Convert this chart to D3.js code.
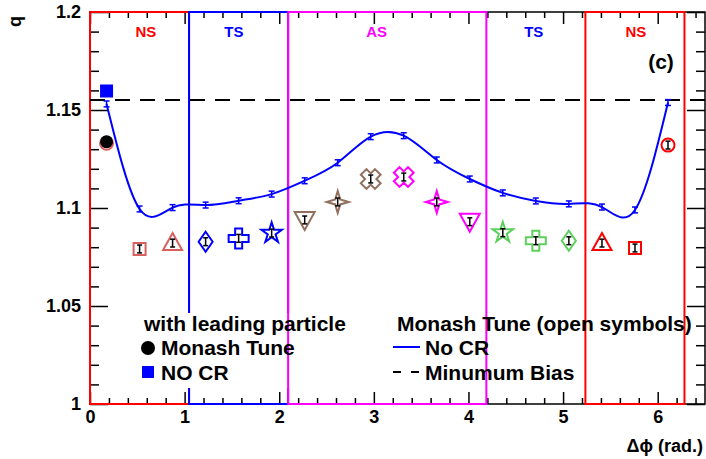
<!DOCTYPE html>
<html>
<head>
<meta charset="utf-8">
<script src="https://cdn.jsdelivr.net/npm/d3@7"></script>
<style>
  body { margin: 0; background: #fff; }
  svg text { font-family: "Liberation Sans", Arial, sans-serif; font-weight: bold; }
</style>
</head>
<body>
<div id="chart"></div>
<script>
// bin centres in delta phi (rad.)
var binCenters = [0.175, 0.524, 0.873, 1.222, 1.571, 1.920, 2.269, 2.618, 2.967,
                  3.316, 3.665, 4.014, 4.363, 4.712, 5.061, 5.411, 5.760, 6.109];

// No CR curve (blue line)
var noCR = [1.1531, 1.0995, 1.1002, 1.1015, 1.1037, 1.1071, 1.1139, 1.1231, 1.1364,
            1.1369, 1.1245, 1.1148, 1.1077, 1.1036, 1.1021, 1.1005, 1.0990, 1.1538];
var noCRErr = [0.0015, 0.0015, 0.0015, 0.0015, 0.0015, 0.0015, 0.0015, 0.0015, 0.0015,
               0.0015, 0.0015, 0.0015, 0.0015, 0.0015, 0.0015, 0.0015, 0.0015, 0.0015];

// Monash tune (open symbols)
var monash = [1.1330, 1.0791, 1.0821, 1.0828, 1.0845, 1.0872, 1.0939, 1.1031, 1.1148,
              1.1158, 1.1031, 1.0930, 1.0874, 1.0833, 1.0833, 1.0821, 1.0796, 1.1321];
var monashErr = [0.002, 0.002, 0.002, 0.002, 0.002, 0.002, 0.002, 0.002, 0.002,
                 0.002, 0.002, 0.002, 0.002, 0.002, 0.002, 0.002, 0.002, 0.002];

// with leading particle
var leadX = [0.175];
var leadMonash = [1.1338];
var leadNoCR = [1.1597];
var leadErr = [0.0025];

// minimum bias level
var minBias = 1.1551;

// regions
var sectorEdges = [0, 1.047, 2.094, 4.189, 5.236, 6.283];
var sectorLabels = ["NS", "TS", "AS", "TS", "NS"];
var sectorLabelX = [0.59, 1.52, 3.03, 4.69, 5.77];

var xTicks = [0, 1, 2, 3, 4, 5, 6];
var yTicks = [1, 1.05, 1.1, 1.15, 1.2];
var yTickLabels = ["1", "1.05", "1.1", "1.15", "1.2"];

// styles
var red = "#ff0000", blue = "#0000ff", magenta = "#ff00ff",
    brown = "#93705e", green = "#5ccf5c", lightRed = "#d9605f";
var sectorColors = [red, blue, magenta, blue, red];
var symbolShape = ["circle", "square", "triUp", "diamond", "cross", "star", "triDown", "star4", "xcross",
                   "xcross", "star4", "triDown", "star", "cross", "diamond", "triUp", "square", "circle"];
var symbolColor = [lightRed, lightRed, lightRed, blue, blue, blue, brown, brown, brown,
                   magenta, magenta, magenta, green, green, green, red, red, red];

var width = 706, height = 459;
var margin = {left: 90, right: 1, top: 12, bottom: 55};

var svg = d3.select("#chart").append("svg")
    .attr("width", width)
    .attr("height", height);

var x = d3.scaleLinear().domain([0, 6.5]).range([margin.left, width - margin.right]);
var y = d3.scaleLinear().domain([1, 1.2]).range([height - margin.bottom, margin.top]);

function symbolPath(type) {
    switch (type) {
        case "circle": return "M6.5,0A6.5,6.5 0 1,1 -6.5,0A6.5,6.5 0 1,1 6.5,0Z";
        case "square": return "M-6,-6H6V6H-6Z";
        case "triUp": return "M0,-10L9.5,7H-9.5Z";
        case "triDown": return "M0,10L10,-8H-10Z";
        case "diamond": return "M0,-10L7,0L0,10L-7,0Z";
        case "cross": return "M-3.5,-10H3.5V-3.5H10V3.5H3.5V10H-3.5V3.5H-10V-3.5H-3.5Z";
        case "star": return d3.symbol(d3.symbolStar, 130)();
        case "star4": return "M0,-11L2.5,-2.5L11,0L2.5,2.5L0,11L-2.5,2.5L-11,0L-2.5,-2.5Z";
        case "xcross":
            var pts = [[-4,-10],[4,-10],[4,-4],[10,-4],[10,4],[4,4],[4,10],[-4,10],[-4,4],[-10,4],[-10,-4],[-4,-4]];
            var c = Math.SQRT1_2;
            return "M" + pts.map(function (p) {
                return [(p[0] - p[1]) * c, (p[0] + p[1]) * c].join(",");
            }).join("L") + "Z";
    }
}

function errorBar(g, cx, v, e, color, cap) {
    g.append("line").attr("x1", cx).attr("x2", cx).attr("y1", y(v - e)).attr("y2", y(v + e))
        .attr("stroke", color).attr("stroke-width", 1.5);
    [v - e, v + e].forEach(function (yy) {
        g.append("line").attr("x1", cx - cap).attr("x2", cx + cap).attr("y1", y(yy)).attr("y2", y(yy))
            .attr("stroke", color).attr("stroke-width", 1.5);
    });
}

// region boxes (left NS and TS first)
function sectorBox(i) {
    svg.append("rect")
        .attr("x", x(sectorEdges[i]))
        .attr("y", y(1.2))
        .attr("width", x(sectorEdges[i + 1]) - x(sectorEdges[i]))
        .attr("height", y(1) - y(1.2))
        .attr("fill", "none")
        .attr("stroke", sectorColors[i])
        .attr("stroke-width", 2);
}

// axes ticks
var xMinor = d3.range(0, 6.41, 0.2).filter(function (d) { return Math.abs(d - Math.round(d)) > 0.01; });
var yMinor = d3.range(1, 1.2001, 0.01).filter(function (d) { return Math.abs(d * 20 - Math.round(d * 20)) > 0.01; });

function styleAxis(g) {
    g.select(".domain").remove();
    g.selectAll("line").attr("stroke", "#000").attr("stroke-width", 1.5);
    g.selectAll("text").attr("fill", "#000").style("font-size", "18px").style("font-family", "Liberation Sans, Arial, sans-serif").style("font-weight", "bold");
}

var ax = svg.append("g");
ax.append("g").attr("transform", "translate(0," + y(1) + ")")
    .call(d3.axisBottom(x).tickValues(xTicks).tickSize(-12).tickPadding(6).tickFormat(d3.format("d")))
    .call(styleAxis);
ax.append("g").attr("transform", "translate(0," + y(1) + ")")
    .call(d3.axisBottom(x).tickValues(xMinor).tickSize(-6).tickFormat(""))
    .call(styleAxis);
ax.append("g").attr("transform", "translate(0," + y(1.2) + ")")
    .call(d3.axisTop(x).tickValues(xTicks).tickSize(-12).tickFormat(""))
    .call(styleAxis);
ax.append("g").attr("transform", "translate(0," + y(1.2) + ")")
    .call(d3.axisTop(x).tickValues(xMinor).tickSize(-6).tickFormat(""))
    .call(styleAxis);
ax.append("g").attr("transform", "translate(" + x(0) + ",0)")
    .call(d3.axisLeft(y).tickValues(yTicks).tickSize(-18).tickPadding(9)
        .tickFormat(function (d, i) { return yTickLabels[i]; }))
    .call(styleAxis);
ax.append("g").attr("transform", "translate(" + x(0) + ",0)")
    .call(d3.axisLeft(y).tickValues(yMinor).tickSize(-9).tickFormat(""))
    .call(styleAxis);
ax.append("g").attr("transform", "translate(" + x(6.5) + ",0)")
    .call(d3.axisRight(y).tickValues(yTicks).tickSize(-18).tickFormat(""))
    .call(styleAxis);
ax.append("g").attr("transform", "translate(" + x(6.5) + ",0)")
    .call(d3.axisRight(y).tickValues(yMinor).tickSize(-9).tickFormat(""))
    .call(styleAxis);

// frame
svg.append("rect")
    .attr("x", x(0)).attr("y", y(1.2))
    .attr("width", x(6.5) - x(0)).attr("height", y(1) - y(1.2))
    .attr("fill", "none").attr("stroke", "#000").attr("stroke-width", 1.5);

sectorBox(0);
sectorBox(1);

// left legend background
svg.append("rect").attr("x", 132).attr("y", 313).attr("width", 236).attr("height", 75).attr("fill", "#fff");

sectorBox(2);
sectorBox(4);

// region labels
sectorLabels.forEach(function (t, i) {
    svg.append("text")
        .attr("x", x(sectorLabelX[i]))
        .attr("y", 37)
        .attr("text-anchor", "middle")
        .attr("fill", sectorColors[i])
        .style("font-size", "15px")
        .text(t);
});

svg.append("text").attr("x", 661).attr("y", 69).attr("text-anchor", "middle")
    .style("font-size", "21px").text("(c)");

// minimum bias
svg.append("line")
    .attr("x1", x(0)).attr("x2", x(6.5))
    .attr("y1", y(minBias)).attr("y2", y(minBias))
    .attr("stroke", "#000").attr("stroke-width", 2).attr("stroke-dasharray", "15,10");

// No CR curve
var line = d3.line()
    .x(function (d, i) { return x(binCenters[i]); })
    .y(function (d) { return y(d); })
    .curve(d3.curveNatural);

svg.append("path")
    .datum(noCR)
    .attr("d", line)
    .attr("fill", "none")
    .attr("stroke", blue)
    .attr("stroke-width", 2);

var errG = svg.append("g");
noCR.forEach(function (v, i) {
    errorBar(errG, x(binCenters[i]), v, noCRErr[i], blue, 3);
});

// Monash open symbols
var symG = svg.append("g");
monash.forEach(function (v, i) {
    symG.append("path")
        .attr("d", symbolPath(symbolShape[i]))
        .attr("transform", "translate(" + x(binCenters[i]) + "," + y(v) + ")")
        .attr("fill", "none")
        .attr("stroke", symbolColor[i])
        .attr("stroke-width", 2)
        .attr("stroke-linejoin", "miter");
    errorBar(symG, x(binCenters[i]), v, monashErr[i], "#000", 2.5);
});

// leading particle points
leadX.forEach(function (lx, i) {
    errorBar(svg, x(lx), leadMonash[i], leadErr[i], "#000", 3);
    svg.append("circle").attr("cx", x(lx)).attr("cy", y(leadMonash[i])).attr("r", 6.5).attr("fill", "#000");
    errorBar(svg, x(lx), leadNoCR[i], leadErr[i], blue, 3);
    svg.append("rect").attr("x", x(lx) - 6.5).attr("y", y(leadNoCR[i]) - 6.5)
        .attr("width", 13).attr("height", 13).attr("fill", blue);
});

// axis titles
svg.append("text")
    .attr("transform", "translate(21,16) rotate(-90)")
    .attr("text-anchor", "end")
    .style("font-size", "18px")
    .text("q");

svg.append("text")
    .attr("x", 703).attr("y", 452)
    .attr("text-anchor", "end")
    .style("font-size", "18px")
    .text("Δϕ (rad.)");

// legends
var leg = svg.append("g").style("font-size", "21px");
leg.append("text").attr("x", 144).attr("y", 331).text("with leading particle");
leg.append("circle").attr("cx", 148).attr("cy", 348).attr("r", 7).attr("fill", "#000");
leg.append("text").attr("x", 161).attr("y", 355).text("Monash Tune");
leg.append("rect").attr("x", 142).attr("y", 366).attr("width", 12).attr("height", 12).attr("fill", blue);
leg.append("text").attr("x", 161).attr("y", 380).text("NO CR");

leg.append("text").attr("x", 397).attr("y", 331).text("Monash Tune (open symbols)");
leg.append("line").attr("x1", 393).attr("x2", 420).attr("y1", 347).attr("y2", 347)
    .attr("stroke", blue).attr("stroke-width", 2);
leg.append("text").attr("x", 425).attr("y", 355).text("No CR");
leg.append("line").attr("x1", 393).attr("x2", 420).attr("y1", 372).attr("y2", 372)
    .attr("stroke", "#000").attr("stroke-width", 2).attr("stroke-dasharray", "8,10");
leg.append("text").attr("x", 425).attr("y", 380).text("Minumum Bias");
</script>
</body>
</html>
